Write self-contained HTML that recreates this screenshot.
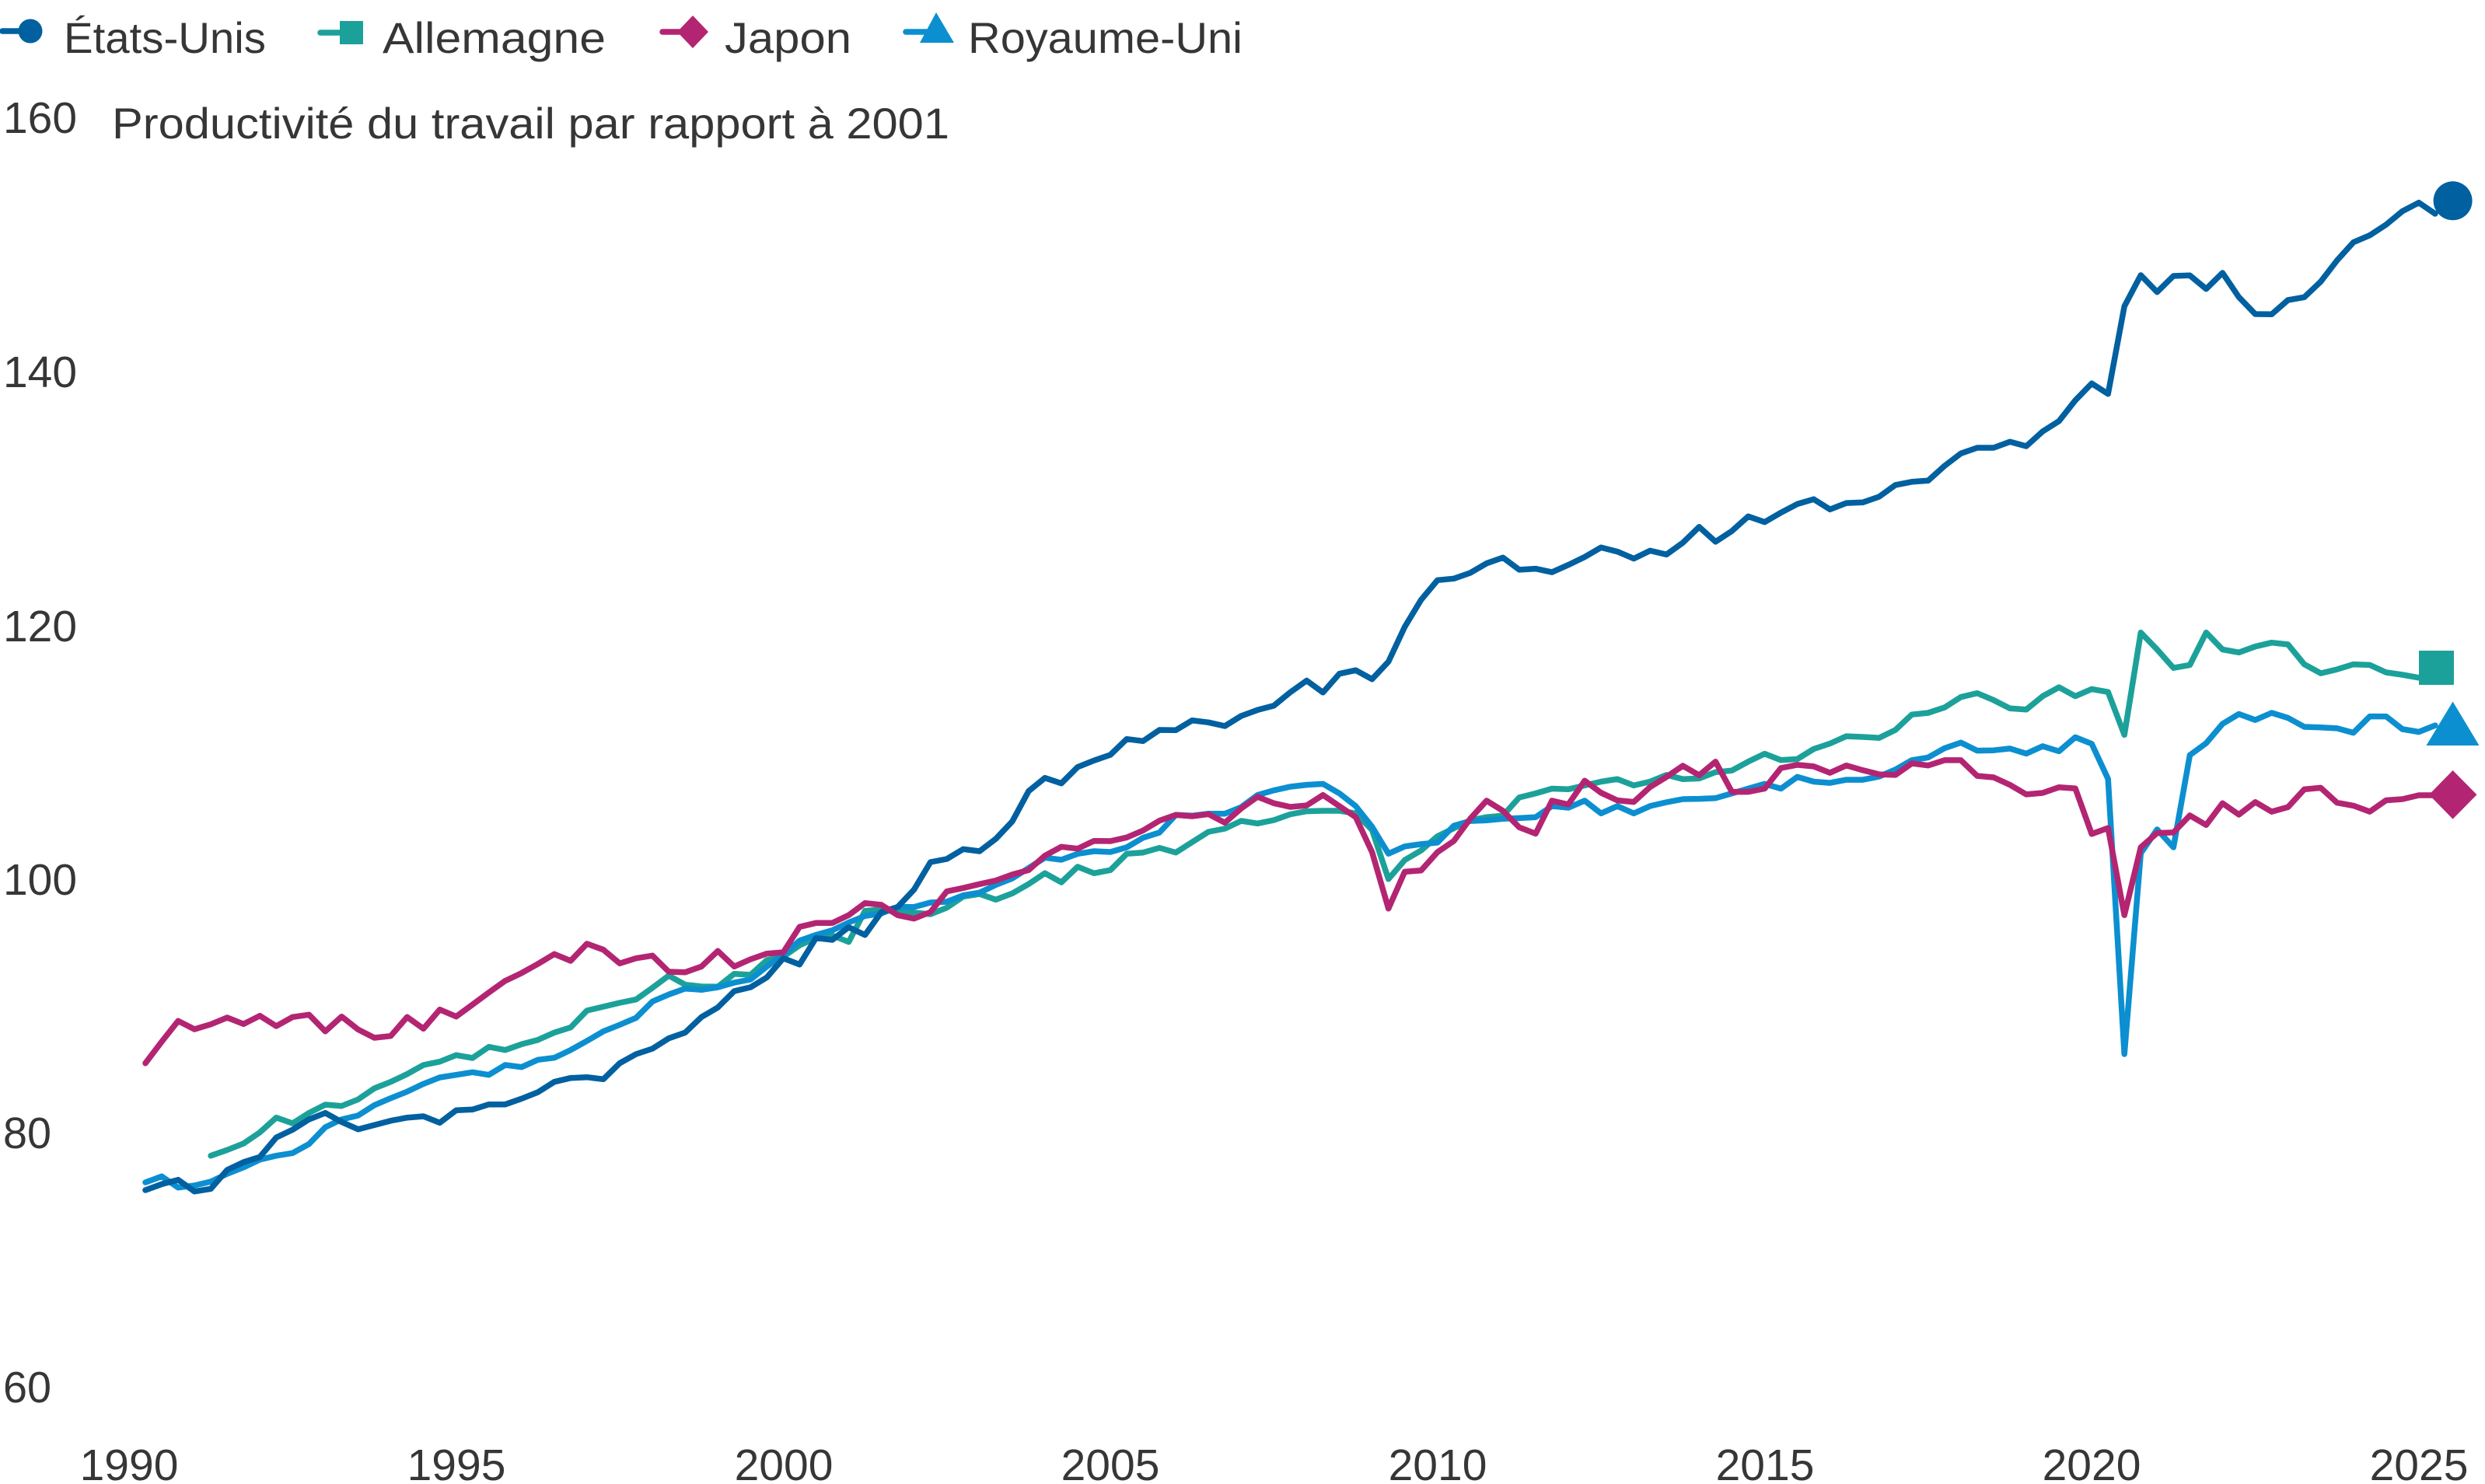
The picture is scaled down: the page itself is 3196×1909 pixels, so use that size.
<!DOCTYPE html>
<html>
<head>
<meta charset="utf-8">
<style>
html,body{margin:0;padding:0;background:#fff;}
svg{display:block;}
text{font-family:"Liberation Sans",Arial,sans-serif;fill:#363636;}
</style>
</head>
<body>
<svg width="3196" height="1909" viewBox="0 0 3196 1909" xmlns="http://www.w3.org/2000/svg">
<rect width="3196" height="1909" fill="#fff"/>

<!-- Legend -->
<line x1="3" y1="40" x2="39" y2="40" stroke="#0060a0" stroke-width="7.5" stroke-linecap="round"/>
<circle cx="39" cy="40" r="15.5" fill="#0060a0"/>
<text x="82" y="68" font-size="56" textLength="260" lengthAdjust="spacingAndGlyphs">États-Unis</text>

<line x1="412" y1="42" x2="451" y2="42" stroke="#1ca19a" stroke-width="7.5" stroke-linecap="round"/>
<rect x="437" y="27" width="30" height="30" fill="#1ca19a"/>
<text x="492" y="68" font-size="56" textLength="287" lengthAdjust="spacingAndGlyphs">Allemagne</text>

<line x1="852" y1="41" x2="891" y2="41" stroke="#b32572" stroke-width="7.5" stroke-linecap="round"/>
<polygon points="891,20 911,41 891,62 871,41" fill="#b32572"/>
<text x="932" y="68" font-size="56" textLength="163" lengthAdjust="spacingAndGlyphs">Japon</text>

<line x1="1165" y1="41" x2="1203" y2="41" stroke="#0c8fd0" stroke-width="7.5" stroke-linecap="round"/>
<polygon points="1204,16 1227,55 1183,55" fill="#0c8fd0"/>
<text x="1245" y="68" font-size="56" textLength="353" lengthAdjust="spacingAndGlyphs">Royaume-Uni</text>

<!-- Y axis labels -->
<text x="4" y="171" font-size="57" textLength="95" lengthAdjust="spacingAndGlyphs">160</text>
<text x="144" y="178" font-size="56" textLength="1077" lengthAdjust="spacingAndGlyphs">Productivité du travail par rapport à 2001</text>
<text x="4" y="498" font-size="57" textLength="95" lengthAdjust="spacingAndGlyphs">140</text>
<text x="4" y="825" font-size="57" textLength="95" lengthAdjust="spacingAndGlyphs">120</text>
<text x="4" y="1151" font-size="57" textLength="95" lengthAdjust="spacingAndGlyphs">100</text>
<text x="4" y="1477" font-size="57" textLength="62" lengthAdjust="spacingAndGlyphs">80</text>
<text x="4" y="1804" font-size="57" textLength="62" lengthAdjust="spacingAndGlyphs">60</text>

<!-- X axis labels -->
<g font-size="57" text-anchor="middle">
<text x="166" y="1904">1990</text>
<text x="587" y="1904">1995</text>
<text x="1008" y="1904">2000</text>
<text x="1428" y="1904">2005</text>
<text x="1849" y="1904">2010</text>
<text x="2270" y="1904">2015</text>
<text x="2690" y="1904">2020</text>
<text x="3111" y="1904">2025</text>
</g>

<g fill="none" stroke-width="7.5" stroke-linejoin="round" stroke-linecap="round">
<!-- Germany -->
<polyline stroke="#1ca19a" points="271.1,1486.7 292.2,1479.3 313.2,1471 334.2,1456.7 355.3,1437.7 376.3,1445 397.4,1431.7 418.4,1421 439.4,1422.7 460.5,1414.3 481.5,1400 502.5,1391.7 523.6,1381.7 544.6,1370 565.6,1365.7 586.7,1357.3 607.7,1361 628.7,1346.7 649.8,1350.7 670.8,1343.3 691.8,1337.7 712.9,1328.3 733.9,1321.7 754.9,1300 776,1295 797,1290 818.1,1285.7 839.1,1270.7 860.1,1255 881.2,1266.7 902.2,1269 923.2,1269.3 944.3,1252.7 965.3,1254 986.3,1235 1007.4,1230.7 1028.4,1216 1049.4,1206.7 1070.5,1203.3 1091.5,1211.7 1112.5,1171.7 1133.6,1170 1154.6,1173.3 1175.6,1174 1196.7,1176 1217.7,1167.7 1238.8,1153.3 1259.8,1150 1280.8,1157.3 1301.9,1149.3 1322.9,1137.3 1343.9,1123.3 1365,1135 1386,1115 1407,1123.3 1428.1,1119.3 1449.1,1098.3 1470.1,1096.7 1491.2,1090.7 1512.2,1096.7 1533.2,1083.3 1554.3,1070 1575.3,1066 1596.3,1056 1617.4,1059.3 1638.4,1055 1659.5,1047.5 1680.5,1043.6 1701.5,1043 1722.6,1043 1743.6,1046.3 1764.6,1067.6 1785.7,1130.8 1806.7,1106.3 1827.7,1094 1848.8,1075.7 1869.8,1065.5 1890.8,1055.3 1911.9,1051.2 1932.9,1049.2 1953.9,1025.9 1975,1020.6 1996,1014.5 2017,1015.3 2038.1,1010.4 2059.1,1005.5 2080.2,1002.2 2101.2,1010.4 2122.2,1005.5 2143.3,996.9 2164.3,1002.2 2185.3,1001.4 2206.4,993.3 2227.4,991.2 2248.4,979.8 2269.5,969.6 2290.5,977.8 2311.5,976.5 2332.6,963.5 2353.6,956.5 2374.6,947.1 2395.7,948 2416.7,949.2 2437.7,939 2458.8,919.2 2479.8,917 2500.9,910.1 2521.9,896.7 2542.9,891.7 2564,900.6 2585,911.3 2606,912.8 2627.1,895.6 2648.1,884.1 2669.1,895.6 2690.2,886.4 2711.2,890.2 2732.2,945.3 2753.3,813.7 2774.3,835.5 2795.3,859.2 2816.4,855.4 2837.4,813.7 2858.4,835.5 2879.5,839.3 2900.5,831.7 2921.6,826.7 2942.6,829 2963.6,854.6 2984.7,866.1 3005.7,861.1 3026.7,854.6 3047.8,855.4 3068.8,865 3089.8,868 3110.9,871.8 3131.9,866"/>
<!-- UK -->
<polyline stroke="#0c8fd0" points="187,1521 208,1513.3 229.1,1527.7 250.1,1525 271.1,1520 292.2,1510 313.2,1501.7 334.2,1491.7 355.3,1486.7 376.3,1483.3 397.4,1471.7 418.4,1450 439.4,1440 460.5,1435 481.5,1421.7 502.5,1412.7 523.6,1404.3 544.6,1394.3 565.6,1386 586.7,1382.7 607.7,1379.3 628.7,1382.7 649.8,1370 670.8,1372.7 691.8,1363.3 712.9,1360.7 733.9,1350.7 754.9,1339 776,1326.7 797,1318.3 818.1,1309.3 839.1,1288.3 860.1,1279.3 881.2,1271.7 902.2,1273.3 923.2,1270 944.3,1264 965.3,1260 986.3,1243.3 1007.4,1228.3 1028.4,1210 1049.4,1202.7 1070.5,1196.7 1091.5,1186.7 1112.5,1178.3 1133.6,1175 1154.6,1166.7 1175.6,1166.7 1196.7,1161 1217.7,1160 1238.8,1151.7 1259.8,1148.3 1280.8,1138.3 1301.9,1130 1322.9,1116.7 1343.9,1103.3 1365,1106 1386,1098.3 1407,1095 1428.1,1096 1449.1,1090 1470.1,1077.7 1491.2,1071 1512.2,1048.3 1533.2,1049.3 1554.3,1046.7 1575.3,1046.7 1596.3,1038.3 1617.4,1022.7 1638.4,1016.7 1659.5,1012 1680.5,1009.6 1701.5,1008.4 1722.6,1020.6 1743.6,1036.9 1764.6,1063.5 1785.7,1098.2 1806.7,1088.8 1827.7,1085.9 1848.8,1083.9 1869.8,1062.2 1890.8,1056.1 1911.9,1055.3 1932.9,1053.3 1953.9,1052.4 1975,1051.2 1996,1036.9 2017,1039 2038.1,1030 2059.1,1046.3 2080.2,1036.9 2101.2,1046.3 2122.2,1036.9 2143.3,1032 2164.3,1028 2185.3,1027.6 2206.4,1026.7 2227.4,1020.6 2248.4,1014.5 2269.5,1008.4 2290.5,1014.5 2311.5,999.4 2332.6,1005.5 2353.6,1007.1 2374.6,1003.1 2395.7,1003.1 2416.7,999 2437.7,990 2458.8,977.9 2479.8,974.4 2500.9,962.5 2521.9,955.3 2542.9,965.6 2564,965.2 2585,962.9 2606,969.4 2627.1,959.9 2648.1,966.4 2669.1,948.4 2690.2,956.8 2711.2,1002 2732.2,1356 2753.3,1097.6 2774.3,1067 2795.3,1090 2816.4,971.4 2837.4,956 2858.4,931.2 2879.5,918.5 2900.5,926.2 2921.6,917 2942.6,923.5 2963.6,935 2984.7,935.8 3005.7,936.9 3026.7,942.6 3047.8,921.6 3068.8,921.6 3089.8,938 3110.9,941.5 3131.9,933.1"/>
<!-- US -->
<polyline stroke="#0060a0" points="187,1531 208,1523.3 229.1,1517.7 250.1,1532.7 271.1,1529.3 292.2,1505 313.2,1495 334.2,1488.3 355.3,1463.3 376.3,1453.3 397.4,1440 418.4,1431.7 439.4,1443.3 460.5,1452.7 481.5,1447.3 502.5,1441.7 523.6,1437.7 544.6,1436 565.6,1444.3 586.7,1428.3 607.7,1427.3 628.7,1420.7 649.8,1420.7 670.8,1413.3 691.8,1405 712.9,1391.7 733.9,1386.7 754.9,1385.7 776,1388.3 797,1367.7 818.1,1356 839.1,1349 860.1,1335.7 881.2,1328.3 902.2,1308.3 923.2,1296 944.3,1275 965.3,1270 986.3,1257.3 1007.4,1232.7 1028.4,1240.7 1049.4,1206.7 1070.5,1209 1091.5,1192.7 1112.5,1202.7 1133.6,1173.3 1154.6,1166.7 1175.6,1144.3 1196.7,1109 1217.7,1105 1238.8,1092.3 1259.8,1095 1280.8,1079 1301.9,1056.7 1322.9,1017.7 1343.9,1000.7 1365,1007.7 1386,986.7 1407,978.3 1428.1,971 1449.1,950.7 1470.1,953.3 1491.2,939 1512.2,939.3 1533.2,926.7 1554.3,929.3 1575.3,934 1596.3,921 1617.4,913.3 1638.4,907.7 1659.5,890.5 1680.5,875.5 1701.5,890.8 1722.6,866.7 1743.6,862.2 1764.6,873.7 1785.7,851.2 1806.7,806.3 1827.7,771.6 1848.8,746.3 1869.8,744.3 1890.8,737 1911.9,724.7 1932.9,717.3 1953.9,732.9 1975,731.6 1996,736.1 2017,726.7 2038.1,716.5 2059.1,704.3 2080.2,709.6 2101.2,718.6 2122.2,708.4 2143.3,713.3 2164.3,698.2 2185.3,677.8 2206.4,696.9 2227.4,683.1 2248.4,664.3 2269.5,671.6 2290.5,659.4 2311.5,648.4 2332.6,642.2 2353.6,655.3 2374.6,647.1 2395.7,646.3 2416.7,639 2437.7,623.9 2458.8,619.8 2479.8,618.3 2500.9,599.3 2521.9,583.3 2542.9,576 2564,576 2585,568.3 2606,574 2627.1,555 2648.1,541.7 2669.1,515 2690.2,493.3 2711.2,506.7 2732.2,394 2753.3,354 2774.3,375.7 2795.3,355 2816.4,354.3 2837.4,371.7 2858.4,351 2879.5,382.3 2900.5,404 2921.6,404.3 2942.6,386 2963.6,382.3 2984.7,362.3 3005.7,335 3026.7,311.7 3047.8,302.7 3068.8,289 3089.8,271.7 3110.9,260.7 3131.9,275"/>
<!-- Japan -->
<polyline stroke="#b32572" points="187,1367.7 208,1340 229.1,1313.3 250.1,1324 271.1,1317.7 292.2,1309 313.2,1317.3 334.2,1306.7 355.3,1320 376.3,1308.3 397.4,1305.3 418.4,1326.7 439.4,1307.7 460.5,1324.3 481.5,1335 502.5,1332.7 523.6,1308.3 544.6,1323.3 565.6,1298.7 586.7,1307.7 607.7,1292.3 628.7,1276.7 649.8,1261.7 670.8,1251.7 691.8,1240 712.9,1227.3 733.9,1236 754.9,1214 776,1221.7 797,1239.3 818.1,1232.7 839.1,1229.3 860.1,1250 881.2,1250.7 902.2,1243.3 923.2,1223.3 944.3,1243.3 965.3,1234 986.3,1226.7 1007.4,1225 1028.4,1192.3 1049.4,1187.3 1070.5,1187.3 1091.5,1177.3 1112.5,1161.7 1133.6,1164 1154.6,1177.3 1175.6,1181.7 1196.7,1173.3 1217.7,1146.7 1238.8,1142.3 1259.8,1137.3 1280.8,1132.7 1301.9,1125 1322.9,1119.3 1343.9,1100.7 1365,1089.3 1386,1091.7 1407,1081.7 1428.1,1082 1449.1,1077.3 1470.1,1068.3 1491.2,1055.7 1512.2,1048.3 1533.2,1050 1554.3,1047.3 1575.3,1058.3 1596.3,1040 1617.4,1025 1638.4,1033.3 1659.5,1038 1680.5,1036.1 1701.5,1022.7 1722.6,1037 1743.6,1051.2 1764.6,1096.1 1785.7,1168.8 1806.7,1121.4 1827.7,1119.8 1848.8,1096.1 1869.8,1081.8 1890.8,1053.3 1911.9,1030 1932.9,1043 1953.9,1064.3 1975,1072.4 1996,1030 2017,1034.9 2038.1,1004.3 2059.1,1019.8 2080.2,1029.6 2101.2,1031.6 2122.2,1012.4 2143.3,999.4 2164.3,985.1 2185.3,997.3 2206.4,979.8 2227.4,1018.6 2248.4,1018.6 2269.5,1014.5 2290.5,988 2311.5,983.9 2332.6,985.9 2353.6,994.1 2374.6,984.7 2395.7,990.8 2416.7,996.1 2437.7,996.9 2458.8,982 2479.8,984.7 2500.9,977.9 2521.9,977.9 2542.9,998.1 2564,1000 2585,1009.6 2606,1021.9 2627.1,1020 2648.1,1012.7 2669.1,1014.2 2690.2,1072.8 2711.2,1065.1 2732.2,1177.2 2753.3,1090 2774.3,1071.6 2795.3,1070.9 2816.4,1049 2837.4,1061.3 2858.4,1033.3 2879.5,1047.9 2900.5,1031.8 2921.6,1044.1 2942.6,1038.3 2963.6,1015.4 2984.7,1013.4 3005.7,1032.6 3026.7,1036.4 3047.8,1044.1 3068.8,1029.5 3089.8,1028 3110.9,1023 3131.9,1023"/>
</g>

<!-- End markers -->
<circle cx="3154.6" cy="258.3" r="25" fill="#0060a0"/>
<rect x="3111" y="837" width="45" height="44" fill="#1ca19a"/>
<polygon points="3154.6,902.5 3188.5,959 3120.5,959" fill="#0c8fd0"/>
<polygon points="3154.6,991 3185.5,1022.3 3154.6,1053.6 3124,1022.3" fill="#b32572"/>
</svg>
</body>
</html>
